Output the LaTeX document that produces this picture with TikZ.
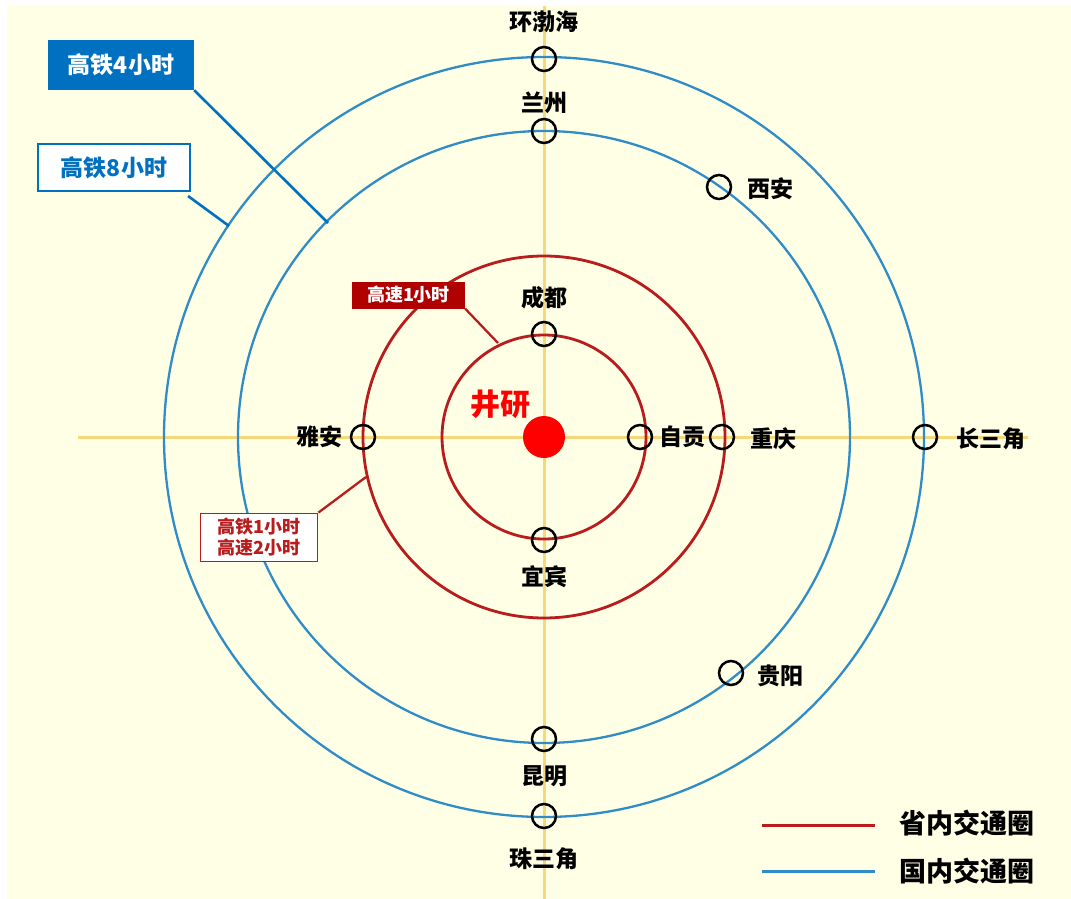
\documentclass[tikz,border=0pt]{standalone}
\usepackage{fontspec}
\newfontfamily\cjk{Noto Sans CJK SC}
\definecolor{bgyellow}{HTML}{FFFFE6}
\definecolor{axisyellow}{HTML}{F7D77C}
\definecolor{ringred}{HTML}{B81C1C}
\definecolor{ringblue}{HTML}{2F8CC6}
\definecolor{boxblue}{HTML}{0070C0}
\definecolor{boxred}{HTML}{B00000}
\tikzset{
  city/.style={circle,draw=black,line width=2.5pt,minimum size=24pt,inner sep=0pt},
  lbl/.style={font=\cjk\bfseries\fontsize{23}{26}\selectfont,text=black,inner sep=0pt},
  axis/.style={draw=axisyellow,line width=3pt},
  redring/.style={draw=ringred,line width=2.8pt},
  bluering/.style={draw=ringblue,line width=2.3pt},
  leadblue/.style={draw=boxblue,line width=2.6pt},
  leadred/.style={draw=ringred,line width=2.3pt},
}
\begin{document}
\begin{tikzpicture}[x=1pt,y=-1pt]
\useasboundingbox (0,0) rectangle (1071,899);
\fill[white] (0,0) rectangle (1071,899);
\fill[bgyellow] (7,6) rectangle (1080,910);

\coordinate (c) at (544,437);
% axes
\coordinate (axL) at (78,437);
\coordinate (axR) at (1028,437);
\coordinate (axT) at (544,6);
\coordinate (axB) at (544,905);
\draw[axis] (axL) -- (axR);
\draw[axis] (axT) -- (axB);

% rings
\draw[redring] (c) circle[radius=102];
\draw[redring] (c) circle[radius=181];
\draw[bluering] (c) circle[radius=306];
\draw[bluering] (c) circle[radius=380];

% centre
\fill[red] (c) circle[radius=21];
\node[font=\cjk\bfseries\fontsize{30}{33}\selectfont,text=red,inner sep=0pt] (jy) at (500,404) {井研};

% cities
\node[city] (hbh) at (544,59) {};
\node[lbl] (hbhL) at (544,22) {环渤海};
\node[city] (lz) at (544,131) {};
\node[lbl] (lzL) at (544,103) {兰州};
\node[city] (cd) at (544,334) {};
\node[lbl] (cdL) at (544,298) {成都};
\node[city] (yb) at (544,540) {};
\node[lbl] (ybL) at (544,577) {宜宾};
\node[city] (km) at (544,739) {};
\node[lbl] (kmL) at (544,776) {昆明};
\node[city] (zsj) at (544,816) {};
\node[lbl] (zsjL) at (544,859) {珠三角};
\node[city] (ya) at (363,437) {};
\node[lbl] (yaL) at (319,437) {雅安};
\node[city] (zg) at (640,437) {};
\node[lbl] (zgL) at (682,437) {自贡};
\node[city] (cq) at (722,437) {};
\node[lbl] (cqL) at (773,439) {重庆};
\node[city] (csj) at (925,437) {};
\node[lbl] (csjL) at (991,439) {长三角};
\node[city] (xa) at (719,187) {};
\node[lbl] (xaL) at (770,189) {西安};
\node[city] (gy) at (731,673) {};
\node[lbl] (gyL) at (780,676) {贵阳};

% callout boxes
\node[fill=boxblue,minimum width=146pt,minimum height=50pt,inner sep=0pt,
      font=\cjk\bfseries\fontsize{23}{26}\selectfont,text=white] (b4) at (121,65) {高铁4小时};
\node[fill=white,draw=boxblue,line width=2pt,minimum width=152pt,minimum height=47pt,inner sep=0pt,
      font=\cjk\bfseries\fontsize{23}{26}\selectfont,text=boxblue] (b8) at (114,167.5) {高铁8小时};
\node[fill=boxred,minimum width=113pt,minimum height=27pt,inner sep=0pt,
      font=\cjk\bfseries\fontsize{18}{20}\selectfont,text=white] (r1) at (408.5,295) {高速1小时};
\node[fill=white,draw=ringred,line width=1.8pt,minimum width=117pt,minimum height=48pt,inner sep=0pt,
      align=center,font=\cjk\bfseries\fontsize{18}{21}\selectfont,text=ringred] (r2) at (259,537.5) {高铁1小时\\高速2小时};

\coordinate (p4) at (328,223);
\coordinate (p8) at (229,226);
\coordinate (pr1) at (498,343);
\coordinate (pr2) at (366,477);
\draw[leadblue] (b4.south east) -- (p4);
\draw[leadblue] ([xshift=-3pt,yshift=-4pt]b8.south east) -- (p8);
\draw[leadred] (r1.south east) -- (pr1);
\draw[leadred] (r2.north east) -- (pr2);

% legend
\coordinate (lr1) at (762,825);
\coordinate (lr2) at (875,825);
\coordinate (lb1) at (762,871);
\coordinate (lb2) at (875,871);
\draw[draw=ringred,line width=3pt] (lr1) -- (lr2);
\draw[draw=ringblue,line width=3pt] (lb1) -- (lb2);
\node[font=\cjk\bfseries\fontsize{27}{29}\selectfont,text=black,anchor=west,inner sep=0pt] (leg1) at (899,823) {省内交通圈};
\node[font=\cjk\bfseries\fontsize{27}{29}\selectfont,text=black,anchor=west,inner sep=0pt] (leg2) at (899,871) {国内交通圈};
\end{tikzpicture}
\end{document}
